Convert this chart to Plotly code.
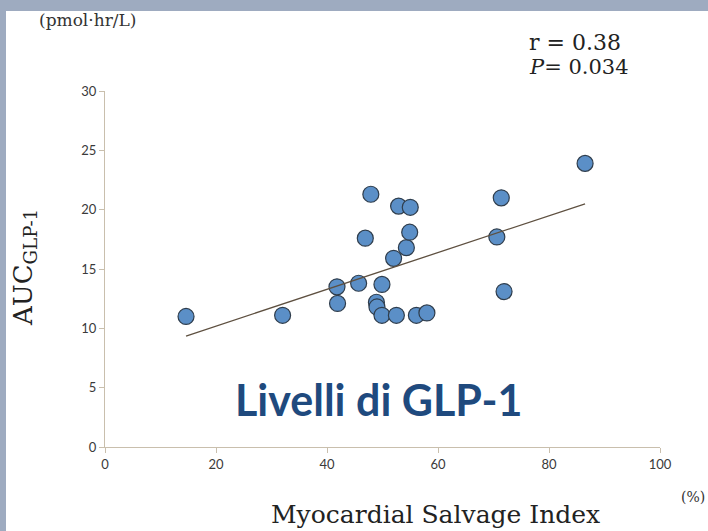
import numpy as np
import plotly.graph_objects as go

# Data
salvage_index = [14.6, 32.0, 41.8, 41.9, 45.7, 46.9, 47.9, 48.9, 49.0, 49.9, 49.9, 52.0,
                 52.5, 52.9, 55.0, 54.3, 54.9, 56.1, 58.0, 70.6, 71.4, 71.9, 86.5]
auc_glp1 = [11.0, 11.1, 13.5, 12.1, 13.8, 17.6, 21.3, 12.2, 11.8, 13.7, 11.1, 15.9,
            11.1, 20.3, 20.2, 16.8, 18.1, 11.1, 11.3, 17.7, 21.0, 13.1, 23.9]
x_ticks = [0, 20, 40, 60, 80, 100]
y_ticks = [0, 5, 10, 15, 20, 25, 30]

# linear regression trend line over the data range
slope, intercept = np.polyfit(salvage_index, auc_glp1, 1)
trend_x = [min(salvage_index), max(salvage_index)]
trend_y = [intercept + slope * v for v in trend_x]

W, H = 708, 531
L, R, T, B = 105, 48, 91, 84
PW, PH = W - L - R, H - T - B

def px(x):
    return (x - L) / PW

def py(y):
    return (H - B - y) / PH

fig = go.Figure()
fig.add_trace(go.Scatter(x=salvage_index, y=auc_glp1, mode="markers",
                         marker=dict(size=16, color="#5b8fc7",
                                     line=dict(color="#2f3d4c", width=1.2))))
fig.add_trace(go.Scatter(x=trend_x, y=trend_y, mode="lines",
                         line=dict(color="#5e5040", width=1.3), hoverinfo="skip"))

axis_color = "#c9bfad"
tickfont = dict(family="Lato, Open Sans, sans-serif", size=13, color="#3a3a3a")
fig.update_xaxes(range=[0, 100], tickvals=x_ticks, showgrid=False, zeroline=False,
                 showline=True, linecolor=axis_color, linewidth=1.2,
                 ticks="outside", ticklen=5, tickcolor=axis_color, tickwidth=1.2,
                 tickfont=tickfont)
fig.update_yaxes(range=[0, 30], tickvals=y_ticks, showgrid=False, zeroline=False,
                 showline=True, linecolor=axis_color, linewidth=1.2,
                 ticks="outside", ticklen=5, tickcolor=axis_color, tickwidth=1.2,
                 tickfont=tickfont)

serif = "DejaVu Serif, Liberation Serif, serif"
ann = []
ann.append(dict(text="(pmol·hr/L)", x=px(37), y=py(20), xanchor="left", yanchor="middle",
                font=dict(family=serif, size=17, color="#333333")))
ann.append(dict(text="r = 0.38", x=px(527), y=py(42), xanchor="left", yanchor="middle",
                font=dict(family=serif, size=22, color="#222222")))
ann.append(dict(text="<i>P</i>= 0.034", x=px(527), y=py(67), xanchor="left", yanchor="middle",
                font=dict(family=serif, size=21, color="#222222")))
ann.append(dict(text="AUC<sub>GLP-1</sub>", x=px(24), y=py(268), xanchor="center", yanchor="middle",
                textangle=-90, font=dict(family=serif, size=26, color="#222222")))
ann.append(dict(text="Myocardial Salvage Index", x=px(435), y=py(514), xanchor="center",
                yanchor="middle", font=dict(family=serif, size=25, color="#222222")))
ann.append(dict(text="(%)", x=px(693), y=py(497), xanchor="center", yanchor="middle",
                font=dict(family=serif, size=14, color="#333333")))
ann.append(dict(text="<b>Livelli di GLP-1</b>", x=px(378), y=py(399), xanchor="center",
                yanchor="middle", font=dict(family="Lato, Open Sans, sans-serif", size=43,
                                            color="#1f4a7e")))
for a in ann:
    a.update(xref="paper", yref="paper", showarrow=False)

fig.update_layout(
    width=W, height=H,
    margin=dict(l=L, r=R, t=T, b=B, pad=0),
    paper_bgcolor="#9eabc0", plot_bgcolor="white",
    showlegend=False,
    annotations=ann,
    shapes=[dict(type="rect", xref="paper", yref="paper", layer="below",
                 x0=px(6), x1=px(708), y0=py(531), y1=py(11),
                 fillcolor="white", line=dict(width=0))],
)

fig.write_html("out.html")
